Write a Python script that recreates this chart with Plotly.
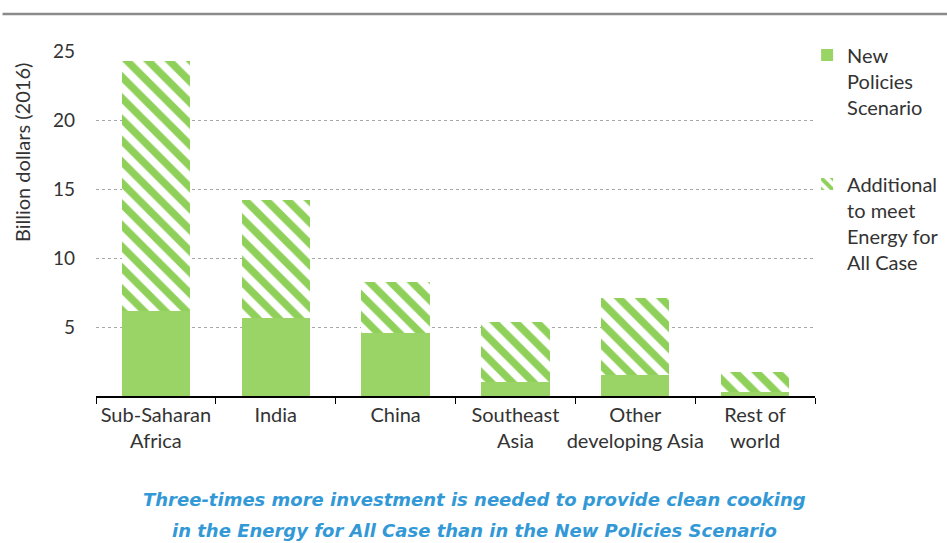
import plotly.graph_objects as go

regions = ["Sub-Saharan<br>Africa", "India", "China", "Southeast<br>Asia",
           "Other<br>developing Asia", "Rest of<br>world"]
new_policies = [6.2, 5.7, 4.6, 1.0, 1.5, 0.3]
additional = [18.1, 8.5, 3.7, 4.35, 5.65, 1.45]
y_ticks = [5, 10, 15, 20, 25]

GREEN = "#9AD466"
TEXT = "#333333"
FONT = "Lato"

fig = go.Figure()
fig.add_bar(
    x=regions, y=new_policies, name="New<br>Policies<br>Scenario",
    marker=dict(color=GREEN, line=dict(width=0)), legendgroup="a",
)
fig.add_bar(
    x=regions, y=additional, name="Additional<br>to meet<br>Energy for<br>All Case",
    marker=dict(color="white", line=dict(width=0),
                pattern=dict(shape="\\", fgcolor="#8FD05A", bgcolor="white",
                             fgopacity=1, size=15, solidity=0.5)),
    legendgroup="b",
)

fig.update_layout(
    width=947, height=543,
    barmode="stack", bargap=0.43,
    plot_bgcolor="white", paper_bgcolor="white",
    margin=dict(l=96, r=132, t=51, b=147, autoexpand=False),
    font=dict(family=FONT, size=20, color=TEXT),
    showlegend=True,
    legend=dict(x=0.989, y=1.045, xanchor="left", yanchor="top",
                traceorder="grouped", tracegroupgap=48, valign="top",
                font=dict(family=FONT, size=20, color=TEXT),
                itemwidth=30, bgcolor="rgba(0,0,0,0)"),
    xaxis=dict(
        showline=True, linecolor="black", linewidth=1.5,
        ticks="outside", tickson="boundaries", ticklen=6, tickcolor="black",
        tickangle=0,
        tickfont=dict(family=FONT, size=20, color=TEXT),
        showgrid=False,
    ),
    yaxis=dict(
        range=[0, 25.05], tickvals=y_ticks, showline=False, ticks="",
        showgrid=True, gridcolor="#a8a8a8", griddash="dot", gridwidth=1.3,
        zeroline=False, ticklabelstandoff=20,
        tickfont=dict(family=FONT, size=19, color=TEXT),
    ),
)

fig.add_annotation(
    text="Billion dollars (2016)", textangle=-90,
    xref="paper", yref="paper", x=-0.103, y=0.707, xanchor="center", yanchor="middle",
    showarrow=False, font=dict(family=FONT, size=20, color=TEXT),
)

caption_lines = [
    "Three-times more investment is needed to provide clean cooking",
    "in the Energy for All Case than in the New Policies Scenario",
]
for i, line in enumerate(caption_lines):
    fig.add_annotation(
        text=f"<b><i>{line}</i></b>",
        xref="paper", yref="paper", x=0.527, y=-0.299 - i * 0.09,
        xanchor="center", yanchor="middle",
        showarrow=False, align="center",
        font=dict(family="DejaVu Sans", size=18, color="#3399D6"),
    )

fig.add_shape(type="line", xref="paper", yref="paper",
              x0=-0.13, x1=1.2, y0=1.107, y1=1.107,
              line=dict(color="#8a8a8a", width=2.5))

fig.write_html("out.html")
